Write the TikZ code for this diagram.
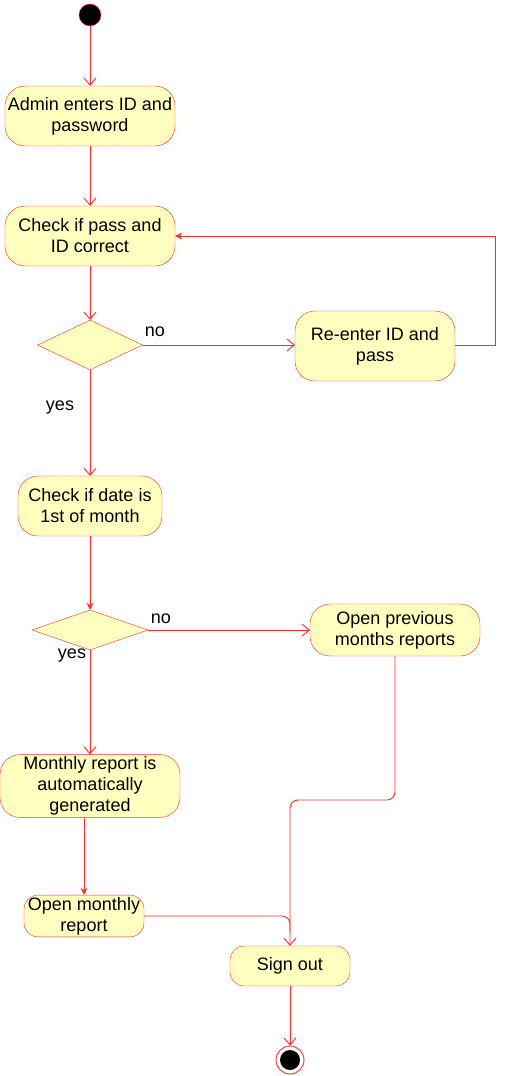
\documentclass[tikz,border=0pt]{standalone}
\usepackage{fontspec}
\setmainfont{Liberation Sans}
\usetikzlibrary{arrows.meta,shapes.geometric,positioning,calc}
\definecolor{umlred}{HTML}{FF2A2A}
\definecolor{umlfill}{HTML}{FFFFC0}

\begin{document}
\begin{tikzpicture}[x=1pt,y=-1pt,
  act/.style={draw=umlred, fill=umlfill, rounded corners=20pt, align=center,
    inner sep=2pt, font=\fontsize{18}{21}\selectfont},
  dec/.style={draw=umlred, fill=umlfill, diamond, inner sep=0pt},
  lbl/.style={font=\fontsize{18}{21}\selectfont},
  line/.style={draw=umlred, line width=0.9pt},
  arr/.style={line, -{Straight Barb[length=7pt,width=12pt]}},
  farr/.style={line, -{Stealth[length=7pt,width=7pt]}}]
\useasboundingbox (0,0) rectangle (504,1076);

% Login
\node[circle, fill=black, draw=umlred, minimum size=22pt, inner sep=0pt] (Start) at (90,15) {};
\node[act, minimum width=170pt, minimum height=60pt] (Login) at (90,116) {Admin enters ID and\\password};
\node[act, minimum width=170pt, minimum height=60pt] (Check) at (90,236) {Check if pass and\\ID correct};
\node[dec, minimum width=105pt, minimum height=50pt] (D1) at (90,345) {};
\node[act, minimum width=160pt, minimum height=70pt] (Retry) at (375,346) {Re-enter ID and\\pass};
\node[lbl] (No1) at (155,332) {no};
\node[lbl] (Yes1) at (60,408) {yes};
\draw[arr] (Start) -- (Login);
\draw[arr] (Login) -- (Check);
\draw[arr] (Check) -- (D1.north);
\draw[arr] (D1.east) -- (D1.east -| Retry.west);
\draw[farr] (Retry.east |- D1.east) -- ++(40,0) |- (Check.east);

% Date
\node[act, minimum width=144pt, minimum height=60pt] (Date) at (90,506) {Check if date is\\1st of month};
\node[dec, minimum width=116pt, minimum height=40pt] (D2) at (90,630) {};
\node[act, minimum width=170pt, minimum height=52pt] (Prev) at (395,630) {Open previous\\months reports};
\node[lbl] (No2) at (161,619) {no};
\node[lbl] (Yes2) at (72,656) {yes};
\draw[arr] (D1.south) -- (Date);
\draw[farr] (Date) -- (D2.north);
\draw[arr] (D2.east) -- (Prev.west);

% Reports
\node[act, minimum width=180pt, minimum height=60pt] (Auto) at (90,786) {Monthly report is\\automatically\\generated};
\node[act, minimum width=120pt, minimum height=40pt, rounded corners=14pt] (Open) at (84,916) {Open monthly\\report};
\node[act, minimum width=120pt, minimum height=40pt, rounded corners=14pt] (Sign) at (290,966) {Sign out};
\coordinate (Bend) at (290,800);
\coordinate (Merge) at (290,932);
\draw[arr] (D2.south) -- (Auto);
\draw[farr] (Auto.south -| Open.north) -- (Open.north);
\draw[arr, rounded corners=8pt] (Prev.south) |- (Bend) -- (Sign.north);
\draw[line, rounded corners=8pt] (Open.east) -| (Merge);

% End
\node[circle, draw=umlred, line width=0.9pt, minimum size=28pt, inner sep=0pt] (End) at (290,1060) {};
\node[circle, fill=black, minimum size=20pt, inner sep=0pt] (EndDot) at (End) {};
\draw[arr] (Sign) -- (End);
\end{tikzpicture}
\end{document}
